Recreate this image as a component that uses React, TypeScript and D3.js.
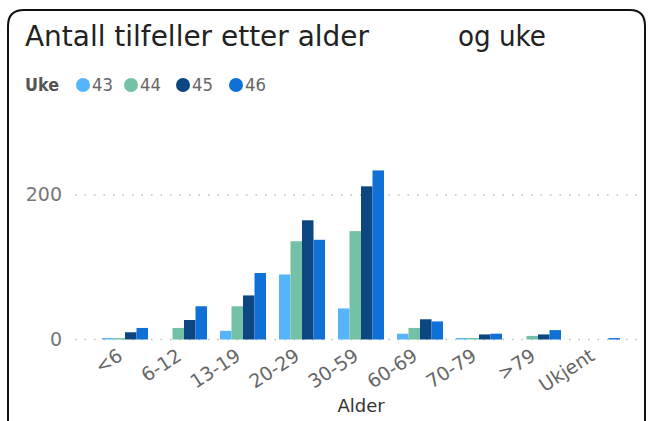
import React from "react";
import * as d3 from "d3";

const categories = ["<6", "6-12", "13-19", "20-29", "30-59", "60-69", "70-79", ">79", "Ukjent"];
const weeks = ["43", "44", "45", "46"];
const uke43 = [2, 0, 12, 90, 43, 8, 2, 0, 0];
const uke44 = [2, 16, 46, 136, 150, 16, 2, 5, 0];
const uke45 = [10, 27, 61, 165, 212, 28, 7, 7, 0];
const uke46 = [16, 46, 92, 138, 234, 25, 8, 13, 2];
const series = [uke43, uke44, uke45, uke46];
const colors = ["#56B5FA", "#73C1A6", "#0C4782", "#0F70D6"];
const yTicks = [0, 200];

const font = "'DejaVu Sans', Roboto, sans-serif";

export default function App() {
  const x = d3.scaleBand<string>().domain(categories).range([95.5, 626.5]).paddingInner(0.22).paddingOuter(0.11);
  const xInner = d3.scaleBand<string>().domain(weeks).range([0, x.bandwidth()]);
  const y = d3.scaleLinear().domain([0, 200]).range([339.5, 195]);

  return (
    <svg width={650} height={421} style={{ position: "absolute", left: 0, top: 0 }} fontFamily={font}>
      <rect x={0} y={0} width={650} height={421} fill="#fff" />
      <path d="M8,440 L8,26 Q8,10 24,10 L630,10 Q645,10 645,26 L645,440" fill="none" stroke="#111" strokeWidth={2} />
      <text x={25} y={46} fontSize={28} fill="#222" textLength={344} lengthAdjust="spacingAndGlyphs">Antall tilfeller etter alder</text>
      <text x={458} y={46} fontSize={28} fill="#222" textLength={88} lengthAdjust="spacingAndGlyphs">og uke</text>

      <text x={25} y={91} fontSize={17} fontWeight="bold" fill="#555" textLength={34} lengthAdjust="spacingAndGlyphs">Uke</text>
      {weeks.map((w, i) => {
        const cx = [83, 131, 183, 236][i];
        return (
          <g key={w}>
            <circle cx={cx} cy={85} r={7} fill={colors[i]} />
            <text x={cx + 9} y={91} fontSize={18} fill="#666" textLength={21} lengthAdjust="spacingAndGlyphs">{w}</text>
          </g>
        );
      })}

      {yTicks.map((t) => (
        <g key={t}>
          <line x1={75} x2={640} y1={y(t)} y2={y(t)} stroke="#bbb" strokeWidth={1.5} strokeDasharray="1.5,8" />
          <text x={62} y={y(t) + 6} textAnchor="end" fontSize={19} fill="#777">{t}</text>
        </g>
      ))}

      {categories.map((c, ci) => (
        <g key={c} transform={`translate(${x(c)},0)`}>
          {series.map((s, si) =>
            s[ci] > 0 ? (
              <rect key={si} x={xInner(weeks[si])} y={y(s[ci])} width={xInner.bandwidth()} height={y(0) - y(s[ci])} fill={colors[si]} />
            ) : null
          )}
        </g>
      ))}

      {categories.map((c) => {
        const cx = (x(c) as number) + x.bandwidth() / 2;
        return (
          <text key={c} transform={`translate(${cx - 1},${359}) rotate(-33)`} textAnchor="end" fontSize={19} fill="#666">
            {c}
          </text>
        );
      })}

      <text x={361} y={412} textAnchor="middle" fontSize={18} fill="#333">Alder</text>
    </svg>
  );
}
